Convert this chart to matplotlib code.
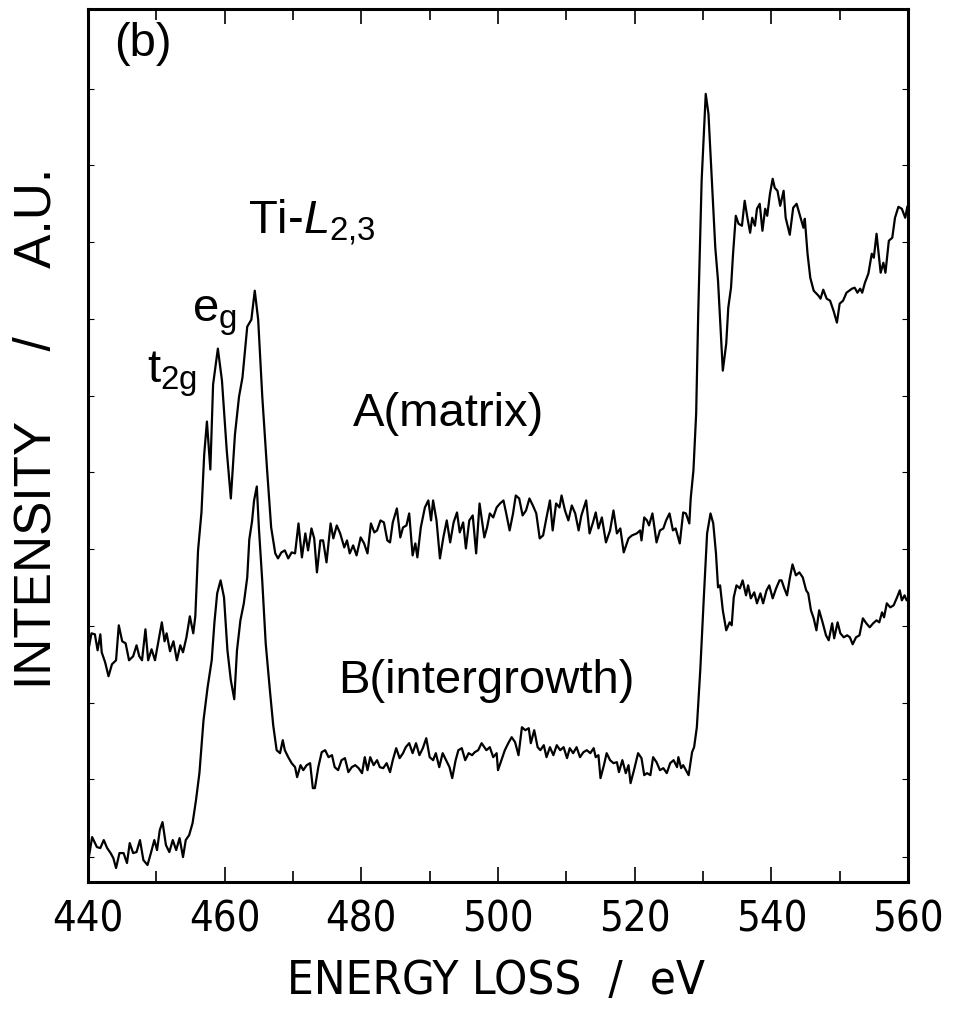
import numpy as np
import matplotlib
matplotlib.use("Agg")
import matplotlib.pyplot as plt
from matplotlib.ticker import MultipleLocator, FixedLocator, NullFormatter

# EELS spectra: energy loss (eV) and intensity (a.u.)
energy_a = [440.0, 440.5, 441.0, 441.4, 441.8, 442.0, 442.5, 443.0, 443.5, 444.1,
            444.5, 445.0, 445.5, 446.0, 446.6, 447.1, 447.5, 447.9, 448.4, 448.8,
            449.3, 449.8, 450.2, 450.8, 451.2, 451.5, 452.0, 452.5, 453.0, 453.5,
            453.9, 454.4, 454.9, 455.4, 455.7, 456.1, 456.6, 457.0, 457.4, 457.9,
            458.3, 459.0, 459.6, 460.3, 460.9, 461.5, 462.1, 462.6, 463.3, 463.9,
            464.4, 464.9, 465.5, 466.2, 466.8, 467.4, 467.8, 468.3, 468.8, 469.3,
            469.8, 470.3, 470.8, 471.3, 471.8, 472.2, 472.7, 473.1, 473.5, 474.0,
            474.4, 474.9, 475.5, 475.9, 476.4, 476.9, 477.5, 477.9, 478.3, 478.8,
            479.3, 479.9, 480.4, 480.9, 481.4, 481.9, 482.3, 482.8, 483.3, 483.8,
            484.2, 484.6, 485.2, 485.7, 486.1, 486.6, 487.0, 487.5, 487.9, 488.2,
            488.7, 489.3, 489.8, 490.2, 490.5, 491.0, 491.5, 492.0, 492.5, 493.0,
            493.5, 494.0, 494.4, 494.9, 495.3, 495.8, 496.3, 496.8, 497.3, 498.0,
            498.4, 498.8, 499.3, 499.8, 500.3, 500.8, 501.2, 501.7, 502.2, 502.6,
            503.1, 503.6, 504.1, 504.6, 505.1, 505.6, 506.1, 506.6, 507.1, 507.6,
            508.0, 508.5, 509.0, 509.3, 509.8, 510.3, 510.8, 511.3, 511.8, 512.2,
            512.9, 513.4, 513.9, 514.3, 514.7, 515.2, 515.8, 516.4, 516.9, 517.4,
            517.9, 518.4, 519.1, 519.6, 520.3, 520.8, 521.0, 521.4, 521.8, 522.1,
            522.6, 523.2, 523.7, 524.2, 524.6, 525.1, 525.6, 526.0, 526.6, 527.1,
            527.5, 528.0, 528.2, 528.6, 529.0, 529.3, 529.8, 530.4, 530.8, 531.3,
            531.8, 532.2, 532.9, 533.4, 533.7, 534.1, 534.4, 534.8, 535.2, 535.7,
            536.1, 536.5, 536.9, 537.2, 537.6, 537.9, 538.3, 538.7, 539.1, 539.4,
            539.8, 540.2, 540.5, 540.9, 541.3, 541.8, 542.1, 542.7, 543.2, 543.7,
            544.2, 544.7, 544.9, 545.3, 545.7, 546.2, 546.9, 547.2, 547.6, 548.1,
            548.6, 549.1, 549.6, 550.0, 550.5, 551.0, 551.8, 552.2, 552.6, 553.0,
            553.3, 553.7, 554.2, 554.7, 555.0, 555.4, 556.0, 556.4, 556.7, 557.2,
            557.7, 558.1, 558.6, 559.1, 559.6, 559.9]
intensity_a = [230, 249, 248, 232, 248, 230, 220, 206, 218, 222,
               257, 241, 239, 222, 226, 237, 226, 222, 253, 222,
               233, 222, 237, 260, 241, 249, 231, 241, 222, 237,
               230, 245, 266, 249, 266, 332, 370, 428, 461, 413,
               498, 534, 502, 432, 384, 448, 486, 505, 556, 563,
               592, 563, 486, 413, 355, 329, 324, 330, 332, 324,
               330, 329, 359, 325, 349, 332, 354, 344, 310, 342,
               342, 320, 359, 344, 357, 349, 335, 342, 329, 337,
               327, 345, 339, 329, 359, 350, 352, 362, 360, 342,
               340, 360, 374, 345, 355, 357, 369, 327, 339, 325,
               355, 375, 382, 362, 382, 362, 324, 345, 362, 340,
               360, 370, 350, 360, 334, 362, 367, 329, 379, 345,
               355, 369, 365, 375, 379, 382, 369, 352, 369, 387,
               384, 367, 372, 384, 377, 369, 344, 347, 365, 382,
               352, 379, 375, 387, 372, 362, 377, 369, 352, 367,
               382, 349, 360, 370, 354, 365, 340, 352, 372, 349,
               354, 330, 344, 347, 349, 352, 342, 365, 362, 357,
               369, 340, 352, 354, 362, 369, 352, 354, 339, 370,
               369, 359, 384, 412, 469, 569, 702, 789, 769, 702,
               635, 602, 512, 539, 575, 595, 629, 667, 659, 657,
               682, 665, 650, 665, 657, 674, 679, 652, 674, 667,
               689, 704, 695, 692, 677, 692, 665, 648, 675, 679,
               667, 655, 664, 629, 605, 592, 587, 584, 593, 584,
               582, 572, 560, 579, 582, 590, 594, 595, 590, 594,
               590, 600, 609, 629, 625, 649, 610, 620, 610, 642,
               645, 665, 676, 674, 665, 676]

energy_b = [440.0, 440.6, 441.3, 441.8, 442.3, 442.8, 443.3, 443.7, 444.1, 444.6,
            445.2, 445.7, 446.1, 446.6, 447.1, 447.6, 448.1, 448.7, 449.2, 449.7,
            450.1, 450.5, 450.9, 451.4, 451.9, 452.4, 452.9, 453.4, 453.9, 454.3,
            454.8, 455.3, 455.8, 456.3, 456.9, 457.5, 458.1, 458.5, 458.9, 459.4,
            459.9, 460.4, 460.9, 461.4, 461.8, 462.3, 462.8, 463.3, 463.6, 464.0,
            464.3, 464.7, 465.0, 465.5, 466.0, 466.6, 467.1, 467.6, 468.1, 468.5,
            468.8, 469.3, 469.8, 470.3, 470.6, 471.1, 471.5, 472.0, 472.5, 472.9,
            473.2, 473.7, 474.2, 474.7, 475.2, 475.7, 476.1, 476.6, 477.1, 477.6,
            478.1, 478.6, 479.1, 479.6, 480.1, 480.5, 480.9, 481.3, 481.8, 482.3,
            482.7, 483.2, 483.7, 484.2, 484.6, 485.1, 485.6, 486.1, 486.5, 487.0,
            487.5, 488.0, 488.5, 489.0, 489.5, 490.0, 490.5, 490.9, 491.4, 491.9,
            492.4, 492.9, 493.3, 493.8, 494.2, 494.7, 495.2, 495.7, 496.2, 496.6,
            497.1, 497.6, 498.3, 498.8, 499.3, 499.8, 500.0, 500.5, 501.0, 501.5,
            502.0, 502.5, 503.0, 503.5, 504.0, 504.5, 504.8, 505.3, 505.8, 506.2,
            506.7, 507.1, 507.6, 508.1, 508.6, 509.1, 509.6, 510.1, 510.5, 511.0,
            511.5, 512.0, 512.5, 513.0, 513.5, 514.0, 514.3, 514.7, 515.0, 515.5,
            515.9, 516.4, 516.9, 517.4, 517.7, 518.2, 518.7, 519.1, 519.4, 519.9,
            520.5, 521.0, 521.4, 521.8, 522.3, 522.7, 523.2, 523.7, 524.2, 524.7,
            525.2, 525.7, 526.2, 526.4, 526.8, 527.1, 527.5, 527.9, 528.4, 528.7,
            529.1, 529.6, 530.1, 530.6, 531.1, 531.5, 531.9, 532.2, 532.5, 532.9,
            533.4, 533.9, 534.2, 534.5, 534.9, 535.4, 535.8, 536.3, 536.6, 537.0,
            537.5, 537.9, 538.4, 538.8, 539.3, 539.7, 540.2, 540.7, 541.2, 541.5,
            541.9, 542.3, 542.7, 543.1, 543.6, 544.1, 544.6, 545.1, 545.4, 545.8,
            546.2, 546.6, 547.0, 547.5, 548.0, 548.4, 548.9, 549.2, 549.7, 550.1,
            550.6, 551.1, 551.5, 551.9, 552.4, 552.9, 553.4, 553.9, 554.4, 554.9,
            555.4, 555.8, 556.2, 556.5, 556.9, 557.4, 557.9, 558.4, 558.8, 559.1,
            559.5, 559.8, 560.0]
intensity_b = [20, 45, 35, 34, 42, 34, 29, 24, 14, 29,
               29, 19, 39, 29, 30, 42, 22, 17, 29, 42,
               32, 52, 60, 37, 30, 42, 32, 44, 25, 42,
               47, 59, 82, 109, 162, 195, 222, 260, 289, 302,
               285, 232, 202, 183, 232, 262, 279, 305, 343, 361,
               382, 396, 355, 301, 239, 193, 157, 132, 129, 142,
               132, 125, 119, 115, 105, 117, 112, 117, 119, 94,
               94, 115, 130, 132, 125, 127, 115, 112, 122, 124,
               110, 115, 117, 114, 109, 125, 112, 125, 117, 122,
               115, 114, 119, 110, 122, 134, 124, 129, 135, 139,
               129, 139, 127, 134, 144, 125, 122, 129, 115, 129,
               122, 115, 104, 122, 132, 134, 122, 129, 127, 130,
               132, 139, 132, 135, 125, 129, 112, 122, 132, 139,
               145, 140, 127, 155, 152, 154, 139, 152, 135, 132,
               137, 125, 135, 127, 137, 132, 135, 124, 134, 129,
               135, 125, 130, 132, 129, 134, 125, 127, 104, 117,
               129, 122, 119, 120, 110, 122, 109, 117, 99, 112,
               129, 124, 107, 109, 107, 125, 120, 112, 114, 109,
               119, 122, 115, 125, 114, 117, 112, 107, 130, 135,
               155, 212, 282, 349, 369, 359, 329, 295, 297, 272,
               252, 260, 257, 285, 297, 294, 302, 287, 297, 284,
               290, 279, 289, 279, 292, 297, 284, 294, 302, 302,
               294, 287, 304, 318, 307, 310, 305, 292, 289, 272,
               264, 252, 272, 260, 247, 242, 259, 244, 260, 249,
               245, 247, 245, 238, 245, 247, 264, 259, 255, 259,
               262, 260, 270, 265, 279, 275, 277, 285, 292, 282,
               287, 282, 284]

x_major = [440, 460, 480, 500, 520, 540, 560]
y_ticks = [25, 103, 179, 256, 333, 410, 487, 564, 641, 718, 794]

plt.rcParams['mathtext.fontset'] = 'custom'
plt.rcParams['mathtext.rm'] = 'Liberation Sans'
plt.rcParams['mathtext.it'] = 'Liberation Sans:italic'
plt.rcParams['font.family'] = ['Liberation Sans', 'DejaVu Sans']

narrow = dict(family='DejaVu Sans', stretch='condensed')

fig = plt.figure(figsize=(9.59, 10.23), dpi=100)
ax = fig.add_axes([0.0918, 0.1378, 0.855, 0.8534])

ax.plot(energy_a, intensity_a, color='black', lw=1.6)
ax.plot(energy_b, intensity_b, color='black', lw=1.6)

ax.set_xlim(440, 560)
ax.set_ylim(0, 874)

ax.xaxis.set_major_locator(FixedLocator(x_major))
ax.xaxis.set_minor_locator(MultipleLocator(10))
ax.yaxis.set_major_locator(FixedLocator(y_ticks))
ax.yaxis.set_major_formatter(NullFormatter())

ax.tick_params(axis='x', which='both', direction='in', top=True, width=1.2)
ax.tick_params(axis='x', which='major', length=11, pad=12)
ax.tick_params(axis='x', which='minor', length=8)
ax.tick_params(axis='y', which='both', direction='in', right=True, length=4, width=0.8)
for lbl in ax.get_xticklabels():
    lbl.set_fontfamily(narrow['family'])
    lbl.set_fontstretch(narrow['stretch'])
    lbl.set_fontsize(30)
for s in ax.spines.values():
    s.set_linewidth(2.2)

ax.set_xlabel('ENERGY LOSS  /  eV', fontsize=34,
              fontfamily=narrow['family'], fontstretch=narrow['stretch'])
ax.xaxis.set_label_coords(0.497, -0.088)
ax.set_ylabel('INTENSITY     /     A.U.', fontsize=37)
ax.yaxis.set_label_coords(-0.032, 0.52)

ax.text(443.8, 827, '(b)', fontsize=34, ha='left', va='baseline')
ax.text(463.4, 649, r'Ti-$L_{2{,}3}$', fontsize=34, ha='left', va='baseline')
ax.text(455.2, 561, r'e$_\mathrm{g}$', fontsize=34, ha='left', va='baseline')
ax.text(448.6, 500, r't$_\mathrm{2g}$', fontsize=34, ha='left', va='baseline')
ax.text(478.8, 457, 'A(matrix)', fontsize=34, ha='left', va='baseline')
ax.text(476.6, 189, 'B(intergrowth)', fontsize=34, ha='left', va='baseline')

fig.savefig('out.png', dpi=100)
